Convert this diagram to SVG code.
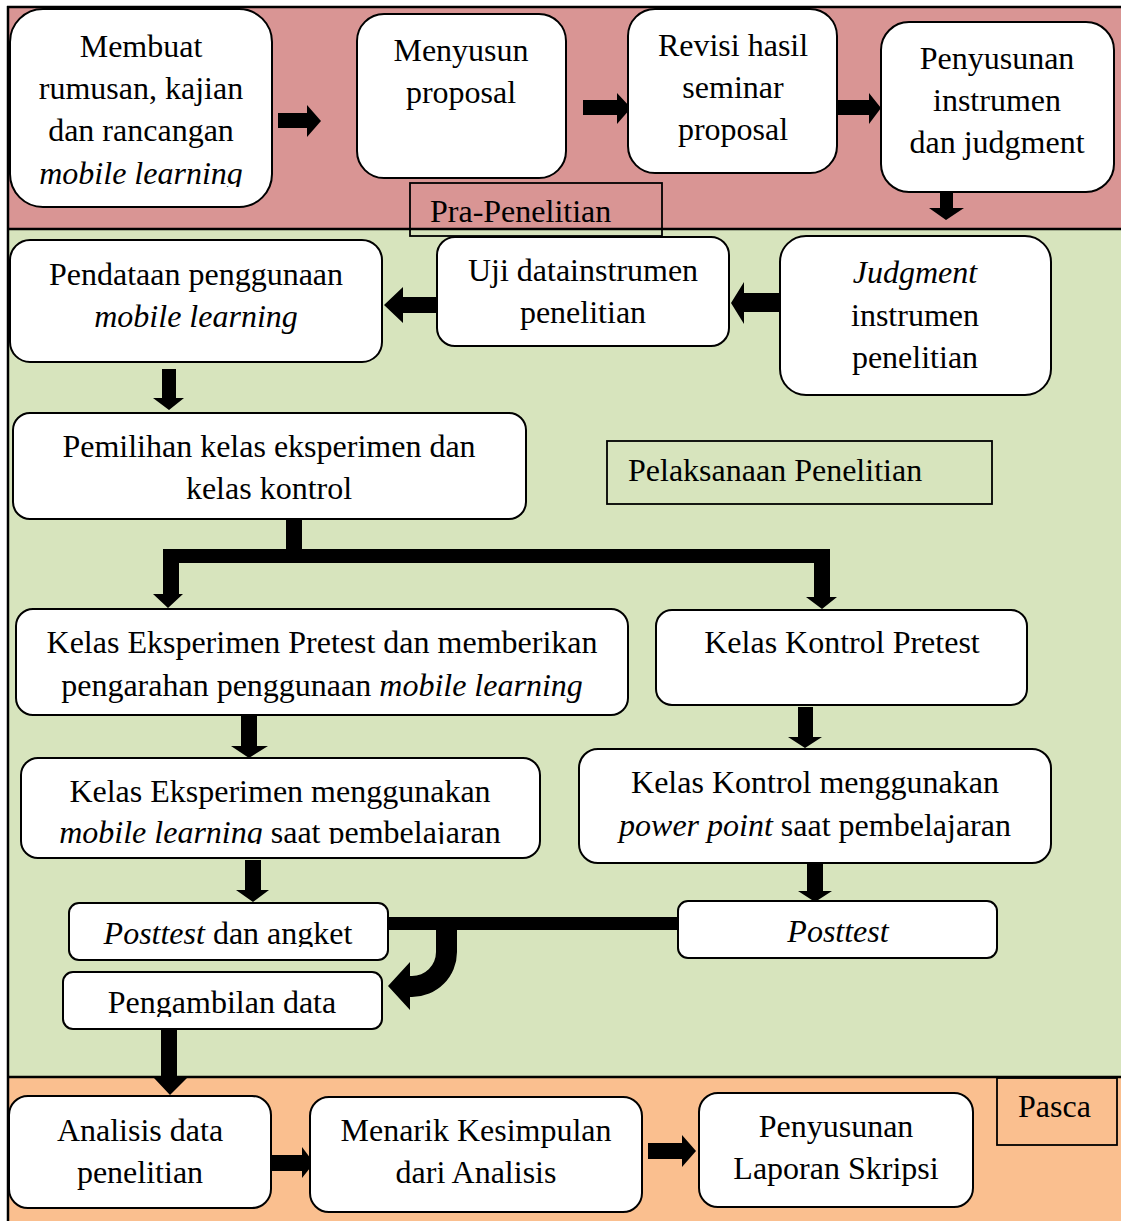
<svg xmlns="http://www.w3.org/2000/svg" width="1121" height="1221" viewBox="0 0 1121 1221">
<style>
.t{font-family:"Liberation Serif","Times New Roman",serif;font-size:32px;fill:#000;text-anchor:middle}
.st{text-anchor:start}
.i{font-style:italic}
.box{fill:#fff;stroke:#000;stroke-width:2}
.lab{fill:none;stroke:#000;stroke-width:1.8}
.arr{fill:#000;stroke:none}
.bl{stroke:#000;stroke-width:2.5;fill:none}
</style>
<defs>
<clipPath id="c1"><rect x="10" y="9" width="262" height="178"/></clipPath>
<clipPath id="c12"><rect x="21" y="758" width="519" height="86"/></clipPath>
<clipPath id="c14"><rect x="69" y="903" width="319" height="44"/></clipPath>
<clipPath id="c16"><rect x="63" y="972" width="319" height="45"/></clipPath>
</defs>

<g id="bands">
<rect x="8" y="7" width="1113" height="222" fill="#D99594"/>
<rect x="8" y="229" width="1113" height="848" fill="#D7E4BD"/>
<rect x="8" y="1077" width="1113" height="144" fill="#FABF8F"/>
<line class="bl" x1="7" y1="7" x2="1121" y2="7"/>
<line class="bl" x1="8" y1="6" x2="8" y2="1221"/>
<line class="bl" x1="8" y1="229" x2="1121" y2="229"/>
<line class="bl" x1="8" y1="1077" x2="1121" y2="1077"/>
</g>

<g id="label-pra">
<rect class="lab" x="410" y="183" width="252" height="53"/>
<text class="t st" x="430" y="222">Pra-Penelitian</text>
</g>
<g id="label-pelaksanaan">
<rect class="lab" x="607" y="441" width="385" height="63"/>
<text class="t st" x="628" y="481">Pelaksanaan Penelitian</text>
</g>
<g id="label-pasca">
<rect class="lab" x="997" y="1078" width="120" height="67"/>
<text class="t st" x="1018" y="1117">Pasca</text>
</g>

<g id="connectors">
<polygon class="arr" points="278,113 307,113 307,105 321,121 307,137 307,128 278,128"/>
<polygon class="arr" points="583,100 617,100 617,93 631,108 617,124 617,115 583,115"/>
<polygon class="arr" points="833,100 869,100 869,93 881,108 869,124 869,115 833,115"/>
<polygon class="arr" points="940,189 953,189 953,208 964,208 946,220 929,208 940,208"/>
<polygon class="arr" points="780,293 744,293 744,282 731,303 744,324 744,312 780,312"/>
<polygon class="arr" points="437,297 403,297 403,287 384,305 403,323 403,313 437,313"/>
<polygon class="arr" points="162,369 176,369 176,398 184,398 169,410 153,398 162,398"/>
<rect class="arr" x="286" y="519" width="16" height="36"/>
<rect class="arr" x="163" y="549" width="667" height="14"/>
<polygon class="arr" points="163,549 179,549 179,594 183,594 168,608 153,594 163,594"/>
<polygon class="arr" points="814,549 830,549 830,597 837,597 822,609 806,597 814,597"/>
<polygon class="arr" points="241,716 257,716 257,746 268,746 249,758 231,746 241,746"/>
<polygon class="arr" points="798,707 813,707 813,737 822,737 805,748 788,737 798,737"/>
<polygon class="arr" points="245,860 261,860 261,890 269,890 253,902 236,890 245,890"/>
<polygon class="arr" points="807,864 823,864 823,891 832,891 815,902 798,891 807,891"/>
<rect class="arr" x="388" y="917" width="290" height="13"/>
<path class="arr" d="M436,925 L457,925 L457,952 A45,45 0 0 1 412,997 L410,997 L410,1010 L388,986 L410,962 L410,976 L412,976 A24,24 0 0 0 436,952 Z"/>
<polygon class="arr" points="161,1029 177,1029 177,1078 187,1078 170,1095 154,1078 161,1078"/>
<polygon class="arr" points="266,1155 302,1155 302,1147 314,1163 302,1178 302,1171 266,1171"/>
<polygon class="arr" points="648,1143 682,1143 682,1135 696,1151 682,1167 682,1159 648,1159"/>
</g>

<g id="n1">
<rect class="box" x="10" y="9" width="262" height="198" rx="33"/>
<g clip-path="url(#c1)">
<text class="t" x="141" y="57">Membuat</text>
<text class="t" x="141" y="99">rumusan, kajian</text>
<text class="t" x="141" y="141">dan rancangan</text>
<text class="t i" x="141" y="184">mobile learning</text>
</g>
</g>
<g id="n2">
<rect class="box" x="357" y="14" width="209" height="164" rx="27"/>
<text class="t" x="461" y="61">Menyusun</text>
<text class="t" x="461" y="103">proposal</text>
</g>
<g id="n3">
<rect class="box" x="628" y="9" width="209" height="164" rx="27"/>
<text class="t" x="733" y="56">Revisi hasil</text>
<text class="t" x="733" y="98">seminar</text>
<text class="t" x="733" y="140">proposal</text>
</g>
<g id="n4">
<rect class="box" x="881" y="22" width="233" height="170" rx="28"/>
<text class="t" x="997" y="69">Penyusunan</text>
<text class="t" x="997" y="111">instrumen</text>
<text class="t" x="997" y="153">dan judgment</text>
</g>
<g id="n5">
<rect class="box" x="10" y="240" width="372" height="122" rx="20"/>
<text class="t" x="196" y="285">Pendataan penggunaan</text>
<text class="t i" x="196" y="327">mobile learning</text>
</g>
<g id="n6">
<rect class="box" x="437" y="237" width="292" height="109" rx="18"/>
<text class="t" x="583" y="281">Uji datainstrumen</text>
<text class="t" x="583" y="323">penelitian</text>
</g>
<g id="n7">
<rect class="box" x="780" y="236" width="271" height="159" rx="26"/>
<text class="t i" x="915" y="283">Judgment</text>
<text class="t" x="915" y="326">instrumen</text>
<text class="t" x="915" y="368">penelitian</text>
</g>
<g id="n8">
<rect class="box" x="13" y="413" width="513" height="106" rx="17"/>
<text class="t" x="269" y="457">Pemilihan kelas eksperimen dan</text>
<text class="t" x="269" y="499">kelas kontrol</text>
</g>
<g id="n10">
<rect class="box" x="16" y="609" width="612" height="106" rx="17"/>
<text class="t" x="322" y="653">Kelas Eksperimen Pretest dan memberikan</text>
<text class="t" x="322" y="696">pengarahan penggunaan <tspan class="i">mobile learning</tspan></text>
</g>
<g id="n11">
<rect class="box" x="656" y="610" width="371" height="95" rx="16"/>
<text class="t" x="842" y="653">Kelas Kontrol Pretest</text>
</g>
<g id="n12">
<rect class="box" x="21" y="758" width="519" height="100" rx="17"/>
<g clip-path="url(#c12)">
<text class="t" x="280" y="802">Kelas Eksperimen menggunakan</text>
<text class="t" x="280" y="843"><tspan class="i">mobile learning</tspan> saat pembelajaran</text>
</g>
</g>
<g id="n13">
<rect class="box" x="579" y="749" width="472" height="114" rx="19"/>
<text class="t" x="815" y="793">Kelas Kontrol menggunakan</text>
<text class="t" x="815" y="836"><tspan class="i">power point</tspan> saat pembelajaran</text>
</g>
<g id="n14">
<rect class="box" x="69" y="903" width="319" height="57" rx="10"/>
<g clip-path="url(#c14)">
<text class="t" x="228" y="944"><tspan class="i">Posttest</tspan> dan angket</text>
</g>
</g>
<g id="n15">
<rect class="box" x="678" y="901" width="319" height="57" rx="10"/>
<text class="t i" x="838" y="942">Posttest</text>
</g>
<g id="n16">
<rect class="box" x="63" y="972" width="319" height="57" rx="10"/>
<g clip-path="url(#c16)">
<text class="t" x="222" y="1013">Pengambilan data</text>
</g>
</g>
<g id="n17">
<rect class="box" x="9" y="1096" width="262" height="112" rx="19"/>
<text class="t" x="140" y="1141">Analisis data</text>
<text class="t" x="140" y="1183">penelitian</text>
</g>
<g id="n18">
<rect class="box" x="310" y="1097" width="332" height="115" rx="19"/>
<text class="t" x="476" y="1141">Menarik Kesimpulan</text>
<text class="t" x="476" y="1183">dari Analisis</text>
</g>
<g id="n19">
<rect class="box" x="699" y="1093" width="274" height="114" rx="19"/>
<text class="t" x="836" y="1137">Penyusunan</text>
<text class="t" x="836" y="1179">Laporan Skripsi</text>
</g>
</svg>
